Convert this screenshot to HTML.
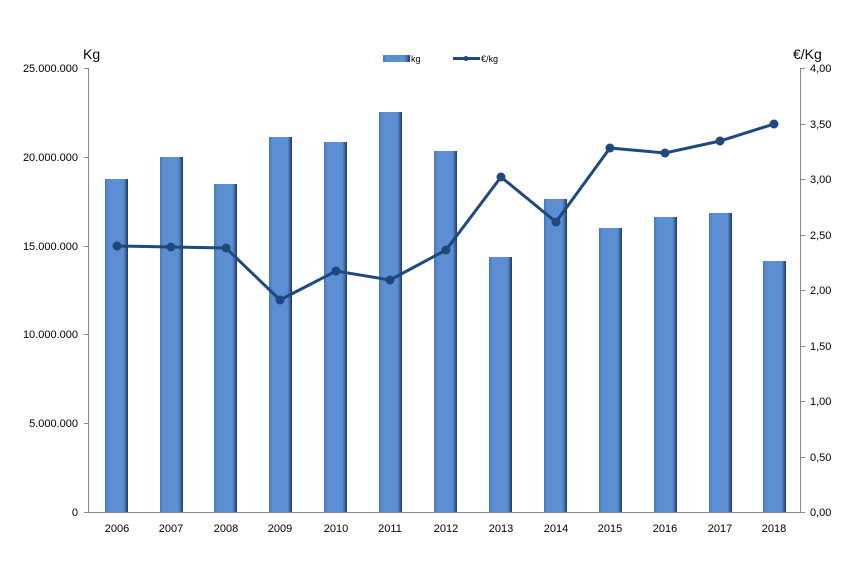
<!DOCTYPE html>
<html><head><meta charset="utf-8"><style>
body{margin:0;background:#fff;}
svg{display:block;font-family:"Liberation Sans",sans-serif;}
</style></head><body>
<svg width="856" height="566" viewBox="0 0 856 566">
<defs>
<linearGradient id="g" x1="0" x2="1" y1="0" y2="0">
<stop offset="0" stop-color="#4a78b8"/><stop offset="0.15" stop-color="#5b8ed2"/><stop offset="0.8" stop-color="#5b8ed2"/><stop offset="0.92" stop-color="#3a5f95"/><stop offset="1" stop-color="#1f3555"/>
</linearGradient>
</defs>
<g stroke="#888" stroke-width="1">
<line x1="88.5" y1="68" x2="88.5" y2="512"/>
<line x1="800.5" y1="68" x2="800.5" y2="512"/>
<line x1="88" y1="512.5" x2="801" y2="512.5"/>
<line x1="84" y1="68.5" x2="88" y2="68.5"/><line x1="84" y1="157.5" x2="88" y2="157.5"/><line x1="84" y1="246.5" x2="88" y2="246.5"/><line x1="84" y1="334.5" x2="88" y2="334.5"/><line x1="84" y1="423.5" x2="88" y2="423.5"/><line x1="84" y1="512.5" x2="88" y2="512.5"/>
<line x1="800" y1="68.5" x2="805" y2="68.5"/><line x1="800" y1="124.5" x2="805" y2="124.5"/><line x1="800" y1="179.5" x2="805" y2="179.5"/><line x1="800" y1="235.5" x2="805" y2="235.5"/><line x1="800" y1="290.5" x2="805" y2="290.5"/><line x1="800" y1="346.5" x2="805" y2="346.5"/><line x1="800" y1="401.5" x2="805" y2="401.5"/><line x1="800" y1="457.5" x2="805" y2="457.5"/><line x1="800" y1="512.5" x2="805" y2="512.5"/>
</g>
<g font-size="11" fill="#000" text-anchor="end">
<text x="78" y="72">25.000.000</text><text x="78" y="161">20.000.000</text><text x="78" y="250">15.000.000</text><text x="78" y="338">10.000.000</text><text x="78" y="427">5.000.000</text><text x="78" y="516">0</text>
</g>
<g font-size="11" fill="#000" text-anchor="start">
<text x="810" y="72">4,00</text><text x="810" y="128">3,50</text><text x="810" y="183">3,00</text><text x="810" y="239">2,50</text><text x="810" y="294">2,00</text><text x="810" y="350">1,50</text><text x="810" y="405">1,00</text><text x="810" y="461">0,50</text><text x="810" y="516">0,00</text>
</g>
<text x="83" y="59" font-size="14">Kg</text>
<text x="793" y="59" font-size="14">€/Kg</text>
<g fill="url(#g)">
<rect x="105" y="179" width="23" height="333"/>
<rect x="160" y="157" width="23" height="355"/>
<rect x="214" y="184" width="23" height="328"/>
<rect x="269" y="137" width="23" height="375"/>
<rect x="324" y="142" width="23" height="370"/>
<rect x="379" y="112" width="23" height="400"/>
<rect x="434" y="151" width="23" height="361"/>
<rect x="489" y="257" width="23" height="255"/>
<rect x="544" y="199" width="23" height="313"/>
<rect x="599" y="228" width="23" height="284"/>
<rect x="654" y="217" width="23" height="295"/>
<rect x="709" y="213" width="23" height="299"/>
<rect x="763" y="261" width="23" height="251"/>
</g>
<polyline fill="none" stroke="#1f497d" stroke-width="3" points="117,246 171,247 226,248 280,300 336,271 390,280 446,250 501,177 556,222 610,148 665,153 720,141 774,124"/>
<g fill="#1f497d">
<circle cx="117" cy="246" r="4.5"/><circle cx="171" cy="247" r="4.5"/><circle cx="226" cy="248" r="4.5"/><circle cx="280" cy="300" r="4.5"/><circle cx="336" cy="271" r="4.5"/><circle cx="390" cy="280" r="4.5"/><circle cx="446" cy="250" r="4.5"/><circle cx="501" cy="177" r="4.5"/><circle cx="556" cy="222" r="4.5"/><circle cx="610" cy="148" r="4.5"/><circle cx="665" cy="153" r="4.5"/><circle cx="720" cy="141" r="4.5"/><circle cx="774" cy="124" r="4.5"/>
</g>
<g font-size="11" fill="#000" text-anchor="middle">
<text x="117" y="532">2006</text><text x="171" y="532">2007</text><text x="226" y="532">2008</text><text x="280" y="532">2009</text><text x="336" y="532">2010</text><text x="390" y="532">2011</text><text x="446" y="532">2012</text><text x="501" y="532">2013</text><text x="556" y="532">2014</text><text x="610" y="532">2015</text><text x="665" y="532">2016</text><text x="720" y="532">2017</text><text x="774" y="532">2018</text>
</g>
<rect x="383" y="55" width="27" height="7" fill="url(#g)"/>
<text x="411" y="62" font-size="9">kg</text>
<line x1="453" y1="58.5" x2="480" y2="58.5" stroke="#1f497d" stroke-width="3"/>
<circle cx="466" cy="58.5" r="2.5" fill="#1f497d"/>
<text x="481" y="62" font-size="9">€/kg</text>
</svg>
</body></html>
